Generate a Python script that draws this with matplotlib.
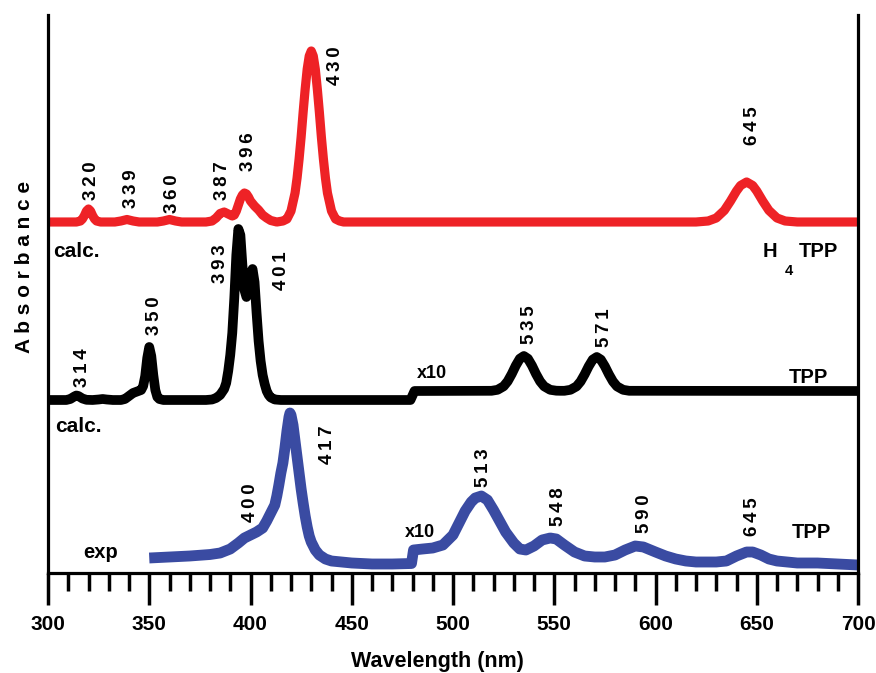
import matplotlib
matplotlib.use("Agg")
import matplotlib.pyplot as plt
import numpy as np

plt.rcParams['font.family'] = ['Liberation Sans', 'DejaVu Sans']
plt.rcParams['font.weight'] = 'bold'

# ---------------- data (wavelength nm, absorbance in arbitrary offset units) ----------------
red_wl = [300, 314, 316, 317, 318, 319, 320, 321, 322, 323, 324, 326, 333, 336, 339, 342, 345,
          354, 357, 360, 363, 366, 378, 381, 383, 385, 387, 389, 391, 392, 393, 394, 395, 396,
          397, 398, 399, 400, 402, 404, 406, 408, 410, 413, 416, 418, 420, 422, 423, 424, 425,
          426, 427, 428, 429, 430, 431, 432, 433, 434, 435, 436, 437, 438, 440, 442, 444, 446,
          620, 626, 630, 634, 637, 640, 642, 645, 648, 650, 653, 656, 660, 664, 670, 700]
red_abs = [351, 351, 352, 354, 357.5, 362, 364, 362, 357.5, 354, 352, 351, 351, 352, 353.5, 352, 351,
           351, 352, 353.5, 352, 351, 351, 352, 355, 359.5, 361, 359, 357, 358, 362, 368, 374, 378,
           380, 379, 376, 372, 367, 363, 358, 355, 352.5, 351, 352, 354, 362, 380, 395, 414, 436,
           461, 484, 504, 517, 522, 517, 504, 484, 461, 436, 414, 395, 380, 362, 354, 352, 351,
           351, 352, 355, 362.6, 371.8, 382, 387.5, 391, 387.5, 382, 371.8, 362.6, 355, 352, 351, 351]

black_wl = [300, 309, 311, 313, 314, 315, 317, 319, 322, 325, 327, 329, 332, 336, 338, 340, 342,
            344, 346, 347, 348, 349, 350, 351, 352, 353, 354, 355, 357, 378, 381, 383, 385, 386,
            387, 388, 389, 390, 391, 392, 393, 394, 395, 396, 397, 398, 399, 400, 401, 402, 403,
            404, 405, 406, 407, 408, 409, 410, 412, 415, 479, 481,
            519, 522, 525, 527, 529, 531, 533, 535, 537, 539, 541, 543, 545, 548, 551, 553,
            555, 558, 561, 563, 565, 567, 569, 571, 573, 575, 577, 579, 581, 584, 587, 700]
black_abs = [173, 173, 174, 176.5, 177.5, 177, 174.5, 173.2, 173, 173.5, 174, 173.5, 173, 173, 174,
             177, 180, 181.5, 183, 187, 197, 215, 226, 217, 198, 183, 176, 174, 173, 173, 173.5,
             175, 178, 181, 184, 190, 202, 218, 240, 275, 318, 344, 338, 308, 283, 276, 284, 298,
             304, 291, 260, 232, 212, 198, 189, 182, 178, 175.5, 173.5, 173, 173, 182,
             182.2, 183.2, 186.7, 191.7, 199, 207.4, 214.3, 217, 214.3, 207.4, 199, 191.7, 186.7,
             183.2, 182.3, 182.2,
             182.2, 183.2, 186.6, 191.5, 198.6, 206.7, 213.4, 216, 213.4, 206.7, 198.6, 191.5,
             186.6, 183.2, 182.2, 182]

blue_wl = [350, 360, 370, 380, 385, 390, 394, 397, 400, 403, 406, 408, 410, 412, 413, 414, 415,
           416, 417, 418, 419, 419.5, 420, 421, 422, 423, 424, 425, 426, 427, 428, 429, 430, 432,
           434, 437, 440, 450, 460, 470, 479.5, 480.5, 485, 490, 495, 500, 503, 506, 509, 511,
           514, 517, 520, 523, 526, 530, 533, 536, 540, 544, 548, 551, 555, 560, 565, 570, 575,
           580, 585, 590, 594, 600, 605, 610, 615, 620, 625, 630, 635, 640, 645, 648, 652, 656,
           660, 670, 680, 690, 700]
blue_abs = [15, 16, 17, 18.5, 20, 24, 30, 35, 38, 41, 45, 52, 60, 68, 77, 88, 100,
            110, 125, 142, 156, 160, 158, 148, 132, 116, 100, 84, 70, 57, 46, 37, 31, 23,
            18, 14, 12, 10, 9, 9, 9.5, 23, 24, 25, 28, 38, 50, 62, 71, 75,
            77, 73, 63, 52, 41, 30, 24, 23, 27, 33, 35, 34, 28, 21, 17, 16, 16,
            18, 23, 27, 26, 21, 17, 14, 12, 11, 11, 11, 12, 17, 21, 21, 18, 14,
            12, 10, 10, 9, 8]

red_peaks = [320, 339, 360, 387, 396, 430, 645]
black_peaks = [314, 350, 393, 401, 535, 571]
blue_peaks = [400, 417, 513, 548, 590, 645]

x_ticks = [300, 350, 400, 450, 500, 550, 600, 650, 700]

# ---------------- layout ----------------
# label anchor (x in nm, y in absorbance units; bottom of rotated text)
red_lab_pos = [(321.6, 373), (341, 365), (361.7, 360), (386.4, 373), (398.8, 402), (442.2, 488), (647.7, 428)]
black_lab_pos = [(316.8, 186), (352.8, 238), (385.4, 290), (415.3, 283), (538, 229), (575, 226)]
blue_lab_pos = [(399.8, 51), (438, 109), (515.3, 86), (551.9, 47), (594.8, 40), (648.1, 37)]

RED = '#EE2226'
BLUE = '#3A4BA2'
BLACK = '#000000'

W, H = 876, 673
fig = plt.figure(figsize=(W / 100, H / 100), dpi=100)
ax = fig.add_axes([48 / W, 100 / H, 810 / W, 558 / H])
ax.set_xlim(300, 700)
ax.set_ylim(0, 558)

ax.plot(red_wl, red_abs, color=RED, lw=6.6, solid_joinstyle='round', solid_capstyle='butt')
ax.plot(black_wl, black_abs, color=BLACK, lw=7.0, solid_joinstyle='round', solid_capstyle='butt')
ax.plot(blue_wl, blue_abs, color=BLUE, lw=7.8, solid_joinstyle='round', solid_capstyle='butt')

for spine in ['left', 'right', 'bottom']:
    ax.spines[spine].set_linewidth(2.3)
ax.spines['top'].set_visible(False)
ax.set_yticks([])
ax.set_xticks(x_ticks)
ax.set_xticks(np.arange(300, 701, 10), minor=True)
ax.set_xticklabels([str(t) for t in x_ticks], fontsize=15, fontweight='bold')
ax.tick_params(axis='x', which='major', direction='out', length=23, width=2.5, pad=7)
ax.tick_params(axis='x', which='minor', direction='out', length=13, width=2.5)
ax.set_xlabel('Wavelength (nm)', fontsize=15.5, fontweight='bold', labelpad=4)
ax.xaxis.set_label_coords((437.5 - 48) / 810, -0.14)

fig.text(25 / W, 1 - 267 / H, 'A b s o r b a n c e', rotation=90, ha='center', va='center',
         fontsize=15, fontweight='bold')


def peak_labels(values, positions):
    for v, (px, py) in zip(values, positions):
        ax.text(px, py, '\u2009'.join(str(v)), rotation=90, ha='center', va='bottom',
                fontsize=13.5, fontweight='bold', color='black')


peak_labels(red_peaks, red_lab_pos)
peak_labels(black_peaks, black_lab_pos)
peak_labels(blue_peaks, blue_lab_pos)

kw = dict(fontweight='bold', ha='left', va='baseline')
ax.text(302.5, 316, 'calc.', fontsize=15, **kw)
ax.text(303.5, 141, 'calc.', fontsize=15, **kw)
ax.text(317.3, 15, 'exp', fontsize=14.5, **kw)
ax.text(653.1, 316, 'H', fontsize=14.5, **kw)
ax.text(664.0, 298, '4', fontsize=10.5, **kw)
ax.text(670.9, 316, 'TPP', fontsize=14.5, **kw)
ax.text(665.9, 190, 'TPP', fontsize=14.5, **kw)
ax.text(667.4, 35, 'TPP', fontsize=14.5, **kw)
ax.text(482.2, 195, 'x10', fontsize=13, **kw)
ax.text(476.3, 36, 'x10', fontsize=13, **kw)

fig.savefig('out.png', dpi=100)
